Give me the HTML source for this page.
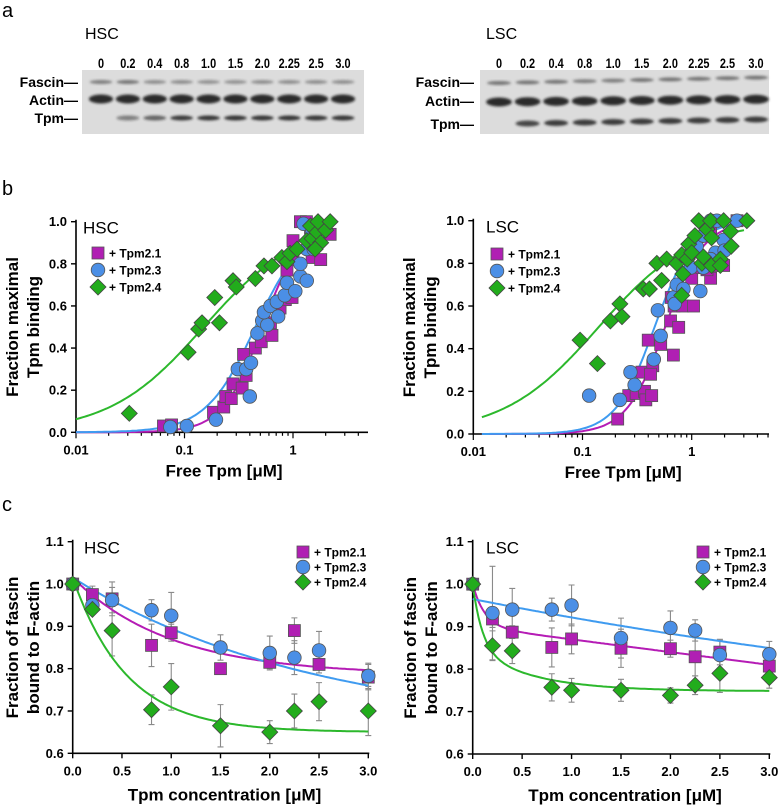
<!DOCTYPE html>
<html><head><meta charset="utf-8">
<style>
html,body{margin:0;padding:0;background:#fff;}
svg{display:block;font-family:"Liberation Sans",Arial,sans-serif;}
</style></head>
<body>
<svg id="fig" width="778" height="807" viewBox="0 0 778 807">
<defs>
<filter id="blur" x="-20%" y="-50%" width="140%" height="200%"><feGaussianBlur stdDeviation="1.3"/></filter>
</defs>
<text x="2" y="17" font-size="20">a</text>
<text x="2" y="195" font-size="20">b</text>
<text x="2" y="511" font-size="20">c</text>
<g id="gels"></g>
<g id="plots"></g>
</svg>
<script>
// ---------- data ----------
const laneLabels = ["0","0.2","0.4","0.8","1.0","1.5","2.0","2.25","2.5","3.0"];
const hscFascin = [0.55,0.6,0.45,0.45,0.42,0.42,0.45,0.45,0.45,0.45];
const hscTpm = [0,0.5,0.65,0.85,0.9,0.9,0.9,0.9,0.9,0.9];
const lscFascin = [0.6,0.6,0.6,0.55,0.55,0.6,0.6,0.6,0.6,0.6];
const lscTpm = [0,0.8,0.85,0.85,0.85,0.85,0.85,0.85,0.85,0.85];

const bTicksX = [0.01,0.1,1];
const bTickLabelsX = ["0.01","0.1","1"];
const bTicksY = [0,0.2,0.4,0.6,0.8,1.0];
const bTickLabelsY = ["0.0","0.2","0.4","0.6","0.8","1.0"];

const hsc21x = [0.064,0.076,0.185,0.23,0.24,0.27,0.28,0.34,0.37,0.35,0.45,0.51,0.64,0.62,0.76,0.85,0.98,0.88,1.0,1.0,1.17,1.33,1.5,1.8,2.2,1.45];
const hsc21y = [0.03,0.035,0.095,0.12,0.17,0.16,0.23,0.21,0.27,0.37,0.40,0.43,0.46,0.52,0.59,0.63,0.64,0.77,0.82,0.91,1.0,1.0,0.83,0.82,0.94,0.97];
const hsc23x = [0.074,0.105,0.195,0.31,0.37,0.41,0.40,0.47,0.52,0.58,0.54,0.62,0.71,0.73,0.84,0.88,1.05,1.17,1.34,1.17,1.34,1.25,1.5,1.55];
const hsc23y = [0.025,0.03,0.06,0.30,0.30,0.33,0.17,0.47,0.53,0.51,0.57,0.60,0.62,0.55,0.65,0.71,0.67,0.74,0.72,0.80,0.87,0.99,0.95,0.87];
const hsc24x = [0.031,0.108,0.135,0.145,0.19,0.21,0.28,0.30,0.45,0.54,0.64,0.79,0.88,0.94,1.09,1.34,1.5,1.45,1.67,1.7,2.0,2.2,1.8,1.6];
const hsc24y = [0.09,0.38,0.49,0.52,0.64,0.52,0.72,0.69,0.73,0.79,0.79,0.83,0.81,0.85,0.87,0.91,0.92,0.98,0.95,1.0,0.96,1.0,0.90,0.87];

const lsc21x = [0.21,0.265,0.31,0.35,0.37,0.38,0.43,0.40,0.44,0.42,0.52,0.64,0.68,0.76,0.65,0.69,0.83,1.04,1.0,1.24,1.49,1.38,1.65,1.96,1.49,2.6];
const lsc21y = [0.07,0.18,0.19,0.29,0.20,0.16,0.18,0.44,0.32,0.28,0.42,0.53,0.37,0.50,0.64,0.60,0.60,0.60,0.73,0.78,0.73,0.77,0.79,0.79,0.96,1.0];
const lsc23x = [0.115,0.22,0.275,0.30,0.45,0.52,0.49,0.68,0.73,0.70,0.84,0.98,1.2,1.11,1.28,1.49,1.65,1.96,2.0,2.6,1.7,1.49,1.28];
const lsc23y = [0.18,0.16,0.29,0.23,0.35,0.46,0.58,0.64,0.70,0.61,0.68,0.78,0.67,0.88,0.93,1.0,0.85,0.91,0.86,1.0,1.0,0.82,0.78];
const lsc24x = [0.095,0.137,0.18,0.22,0.23,0.36,0.41,0.48,0.59,0.53,0.73,0.81,0.83,0.81,0.91,0.94,1.0,1.07,1.16,1.24,1.28,1.38,1.49,1.52,1.52,1.83,1.96,1.83,2.27,2.3,3.2];
const lsc24y = [0.44,0.33,0.53,0.61,0.55,0.68,0.68,0.80,0.82,0.72,0.80,0.65,0.75,0.84,0.82,0.89,0.85,0.93,1.0,0.80,0.83,0.96,1.0,0.79,0.92,0.82,1.0,0.79,0.95,0.88,1.0];

// Hill fit parameters [K, n, max]
const hscFit21 = [0.52,2.4,1.0];
const hscFit23 = [0.45,1.9,1.0];
const hscFit24 = [0.15,1.0,1.0];
const lscFit21 = [0.57,2.47,1.0];
const lscFit23 = [0.456,2.42,1.0];
const lscFit24 = [0.14,1.0,1.0];

const cConc = [0,0.2,0.4,0.8,1.0,1.5,2.0,2.25,2.5,3.0];
const cTicksX = [0,0.5,1.0,1.5,2.0,2.5,3.0];
const cTickLabelsX = ["0.0","0.5","1.0","1.5","2.0","2.5","3.0"];
const cTicksY = [0.6,0.7,0.8,0.9,1.0,1.1];
const cTickLabelsY = ["0.6","0.7","0.8","0.9","1.0","1.1"];

const hscC21 = [1.0,0.975,0.965,0.855,0.885,0.80,0.815,0.89,0.81,0.78];
const hscC21e = [0,0.02,0.04,0.05,0.02,0,0.015,0.03,0.02,0.03];
const hscC23 = [1.0,0.95,0.962,0.938,0.925,0.85,0.837,0.826,0.843,0.783];
const hscC23e = [0,0.01,0.03,0.025,0.055,0.03,0.04,0.04,0.045,0.03];
const hscC24 = [1.0,0.94,0.89,0.703,0.757,0.665,0.65,0.70,0.722,0.70];
const hscC24e = [0,0.01,0.06,0.035,0.055,0.05,0.027,0.04,0.045,0.058];

const lscC21 = [1.0,0.918,0.887,0.851,0.871,0.849,0.848,0.829,0.84,0.807];
const lscC21e = [0,0.02,0.015,0.046,0.035,0.045,0.02,0.045,0.03,0.015];
const lscC23 = [1.0,0.932,0.94,0.94,0.95,0.873,0.897,0.891,0.833,0.835];
const lscC23e = [0,0.11,0.05,0.027,0.048,0.047,0.04,0.025,0.035,0.03];
const lscC24 = [1.0,0.855,0.843,0.757,0.75,0.75,0.738,0.762,0.79,0.78];
const lscC24e = [0,0.035,0.03,0.032,0.028,0.026,0.018,0.022,0.045,0.025];

// exponential fit params: y = a + b1*exp(-x/t1) + b2*exp(-x/t2) + s*x
const hscExp21 = [0.785,0.23,1.0,0,1,0];
const hscExp23 = [0.65,0.365,2.5,0,1,0];
const hscExp24 = [0.65,0.365,0.55,0,1,0];
const lscExp21 = [0.9,0.1,0.12,0,1,-0.03];
const lscExp23 = [0.6,0.365,7.9,0,1,0];
const lscExp24 = [0.748,0.15,0.1,0.1,0.6,0];

// ---------- helpers ----------
const NS="http://www.w3.org/2000/svg";
function el(tag,attrs,parent,txt){const e=document.createElementNS(NS,tag);for(const k in attrs)e.setAttribute(k,attrs[k]);if(txt!==undefined)e.textContent=txt;parent.appendChild(e);return e;}
const C21="#b01fb3",C23="#4b8fe6",C24="#22ac1c";
const L21="#b51cb5",L23="#3f9bf0",L24="#2cb82c";

function marker(g,kind,x,y){
  let m;
  if(kind===0){m=el('rect',{x:x-6,y:y-6,width:12,height:12,fill:C21,stroke:"#555","stroke-width":0.8},g);}
  else if(kind===1){m=el('circle',{cx:x,cy:y,r:6.8,fill:C23,stroke:"#555","stroke-width":0.8},g);}
  else {m=el('polygon',{points:`${x},${y-8} ${x+8},${y} ${x},${y+8} ${x-8},${y}`,fill:C24,stroke:"#444","stroke-width":0.8},g);}
  return m;
}

// ---------- gels ----------
function gel(x0,x1,lane0,lane1,fas,tpm,name,label,labelX,tagRight,lsc){
  const g=el('g',{},document.getElementById('gels'));
  
  
  const t=el('text',{x:labelX,y:39,"font-size":16},g,label);
  
  
  const bg=el('rect',{x:x0,y:70,width:x1-x0,height:64,fill:"#dcdcdc"},g);
  
  
  const step=(lane1-lane0)/9;
  for(let i=0;i<laneLabels.length;i++){
    const cx=lane0+i*step;
    const lt=el('text',{x:cx,y:68,"font-size":14,"font-weight":"bold","text-anchor":"middle",transform:`translate(${cx},0) scale(0.78,1) translate(${-cx},0)`},g,laneLabels[i]);
    
    
    const fy = lsc ? 83 - i*0.6 : 82;
    const b1=el('ellipse',{cx:cx,cy:fy,rx:step*0.42,ry:2,fill:"#333","fill-opacity":fas[i],filter:"url(#blur)"},g);
    
    
    const b2=el('ellipse',{cx:cx,cy:lsc?102-i*0.3:99,rx:step*0.45,ry:4.5,fill:"#1a1a1a","fill-opacity":0.9,filter:"url(#blur)"},g);
    
    
    if(tpm[i]>0){
      const b3=el('ellipse',{cx:cx,cy:lsc?124-i*0.5:118,rx:step*0.42,ry:lsc?3:2.5,fill:"#222","fill-opacity":tpm[i],filter:"url(#blur)"},g);
      
      
    }
  }
  const rows=[["Fascin",87],["Actin",lsc?106:105],["Tpm",lsc?129:123]];
  for(const r of rows){
    const rt=el('text',{x:tagRight,y:r[1],"font-size":14,"font-weight":"bold","text-anchor":"end"},g,r[0]+"\u2014");
    
    
  }
}
gel(82,364,101,343,hscFascin,hscTpm,"gel-hsc","HSC",85,78,false);
gel(480,769,499,756,lscFascin,lscTpm,"gel-lsc","LSC",486,474,true);

// ---------- binding plots (log x) ----------
function bindingPlot(o){
  const g=el('g',{},document.getElementById('plots'));
  
  
  const X=v=>o.x0+(Math.log10(v)+2)*o.dec;
  const Y=v=>o.yb-(v)*(o.yb-o.yt);
  const ax=el('path',{d:`M${o.x0},${o.yt-2}V${o.yb}H${o.xe}`,stroke:"#000","stroke-width":1.6,fill:"none"},g);
  
  
  for(let i=0;i<bTicksY.length;i++){
    const y=Y(bTicksY[i]);
    el('line',{x1:o.x0-5,x2:o.x0,y1:y,y2:y,stroke:"#000","stroke-width":1.4},g);
    const t=el('text',{x:o.x0-9,y:y+4.5,"font-size":13,"font-weight":"bold","text-anchor":"end"},g,bTickLabelsY[i]);
    
    
  }
  for(let d=-2;d<=0;d++){
    for(let m=1;m<=9;m++){
      const v=m*Math.pow(10,d);const x=X(v);if(x>o.xe)break;
      el('line',{x1:x,x2:x,y1:o.yb,y2:o.yb+(m===1?6:3.5),stroke:"#000","stroke-width":1.2},g);
    }
  }
  for(let i=0;i<bTicksX.length;i++){
    const t=el('text',{x:X(bTicksX[i]),y:o.yb+22,"font-size":13,"font-weight":"bold","text-anchor":"middle"},g,bTickLabelsX[i]);
    
    
  }
  const xt=el('text',{x:(o.x0+o.xe)/2+2,y:o.yb+44,"font-size":17,"font-weight":"bold","text-anchor":"middle"},g,"Free Tpm [\u03bcM]");
  
  
  const cy=(o.yt+o.yb)/2;
  const yt=el('text',{transform:`translate(${o.tx},${cy}) rotate(-90)`,"font-size":17,"font-weight":"bold","text-anchor":"middle"},g);
  
  
  el('tspan',{x:0,y:0},yt,"Fraction maximal");
  el('tspan',{x:0,y:21},yt,"Tpm binding");
  const lab=el('text',{x:o.lx,y:o.yt+12,"font-size":17},g,o.label);
  
  
  const fits=[[o.f21,L21],[o.f23,L23],[o.f24,L24]];
  for(const [f,col] of fits){
    let d="";
    for(let lv=Math.log10(o.cs);lv<=Math.log10(o.ce);lv+=0.02){
      const v=Math.pow(10,lv);const y=f[2]*Math.pow(v,f[1])/(Math.pow(f[0],f[1])+Math.pow(v,f[1]));
      d+=(d?"L":"M")+X(v).toFixed(1)+","+Y(y).toFixed(1);
    }
    const p=el('path',{d:d,stroke:col,"stroke-width":2,fill:"none"},g);
    
    
  }
  const series=[[o.d21x,o.d21y,0,'tpm21-point'],[o.d23x,o.d23y,1,'tpm23-point'],[o.d24x,o.d24y,2,'tpm24-point']];
  for(const [xs,ys,k,nm] of series){
    for(let i=0;i<xs.length;i++){
      const m=marker(g,k,X(xs[i]),Y(ys[i]));
      
      
    }
  }
  legend(g,o.legx,o.legy,17);
}
function legend(g,x,y,dy){
  const names=["+ Tpm2.1","+ Tpm2.3","+ Tpm2.4"];
  for(let i=0;i<3;i++){
    const m=marker(g,i,x,y+i*dy);
    
    
    const t=el('text',{x:x+11,y:y+i*dy+4.5,"font-size":12,"font-weight":"bold"},g,names[i]);
    
    
  }
}
bindingPlot({name:"binding-plot-hsc",x0:76,xe:368,dec:108.5,yt:221.7,yb:432.3,tx:18,lx:83,label:"HSC",
  f21:hscFit21,f23:hscFit23,f24:hscFit24,cs:0.01,ce:2.2,
  d21x:hsc21x,d21y:hsc21y,d23x:hsc23x,d23y:hsc23y,d24x:hsc24x,d24y:hsc24y,legx:98,legy:253});
bindingPlot({name:"binding-plot-lsc",x0:473.3,xe:769,dec:109.2,yt:220.7,yb:434,tx:415,lx:486,label:"LSC",
  f21:lscFit21,f23:lscFit23,f24:lscFit24,cs:0.012,ce:3.1,
  d21x:lsc21x,d21y:lsc21y,d23x:lsc23x,d23y:lsc23y,d24x:lsc24x,d24y:lsc24y,legx:497,legy:254});

// ---------- fascin plots ----------
function fascinPlot(o){
  const g=el('g',{},document.getElementById('plots'));
  
  
  const X=v=>o.x0+v/3*(o.x3-o.x0);
  const Y=v=>o.yb-(v-0.6)/0.5*(o.yb-o.yt);
  const ax=el('path',{d:`M${o.x0},${o.yt-2}V${o.yb}H${o.x3+1}`,stroke:"#000","stroke-width":1.6,fill:"none"},g);
  
  
  for(let i=0;i<cTicksY.length;i++){
    const y=Y(cTicksY[i]);
    el('line',{x1:o.x0-5,x2:o.x0,y1:y,y2:y,stroke:"#000","stroke-width":1.4},g);
    const t=el('text',{x:o.x0-9,y:y+4.5,"font-size":13,"font-weight":"bold","text-anchor":"end"},g,cTickLabelsY[i]);
    
    
  }
  for(let i=0;i<cTicksX.length;i++){
    const x=X(cTicksX[i]);
    el('line',{x1:x,x2:x,y1:o.yb,y2:o.yb+5,stroke:"#000","stroke-width":1.4},g);
    const t=el('text',{x:x,y:o.yb+22,"font-size":13,"font-weight":"bold","text-anchor":"middle"},g,cTickLabelsX[i]);
    
    
  }
  const xt=el('text',{x:(o.x0+o.x3)/2+4,y:o.yb+47,"font-size":17,"font-weight":"bold","text-anchor":"middle"},g,"Tpm concentration [\u03bcM]");
  
  
  const cy=(o.yt+o.yb)/2;
  const yt=el('text',{transform:`translate(${o.tx},${cy}) rotate(-90)`,"font-size":17,"font-weight":"bold","text-anchor":"middle"},g);
  
  
  el('tspan',{x:0,y:0},yt,"Fraction of  fascin");
  el('tspan',{x:0,y:21},yt,"bound to F-actin");
  const lab=el('text',{x:o.lx,y:o.yt+12,"font-size":17},g,o.label);
  
  
  const ser=[[o.s21,o.e21,0,'tpm21-point'],[o.s23,o.e23,1,'tpm23-point'],[o.s24,o.e24,2,'tpm24-point']];
  for(const [ys,es] of ser){
    for(let i=0;i<cConc.length;i++){
      if(!es[i])continue;
      const x=X(cConc[i]),y1=Y(ys[i]-es[i]),y2=Y(ys[i]+es[i]);
      const eb=el('path',{d:`M${x},${y1}V${y2}M${x-3},${y1}H${x+3}M${x-3},${y2}H${x+3}`,stroke:"#8a8a8a","stroke-width":1.1,fill:"none"},g);
      
      
    }
  }
  const fits=[[o.f21,L21],[o.f23,L23],[o.f24,L24]];
  for(const [f,col] of fits){
    let d="";
    for(let v=0;v<=3.0001;v+=0.02){
      const y=f[0]+f[1]*Math.exp(-v/f[2])+f[3]*Math.exp(-v/f[4])+f[5]*v;
      d+=(d?"L":"M")+X(v).toFixed(1)+","+Y(y).toFixed(1);
    }
    const p=el('path',{d:d,stroke:col,"stroke-width":2,fill:"none"},g);
    
    
  }
  for(const [ys,es,k,nm] of ser){
    for(let i=0;i<cConc.length;i++){
      const m=marker(g,k,X(cConc[i]),Y(ys[i]));
      
      
    }
  }
  legend(g,o.legx,o.legy,15);
}
fascinPlot({name:"fascin-plot-hsc",x0:72.7,x3:368.3,yt:541.7,yb:753.3,tx:18,lx:84,label:"HSC",
  s21:hscC21,e21:hscC21e,s23:hscC23,e23:hscC23e,s24:hscC24,e24:hscC24e,
  f21:hscExp21,f23:hscExp23,f24:hscExp24,legx:303,legy:552});
fascinPlot({name:"fascin-plot-lsc",x0:472.7,x3:769.3,yt:541.7,yb:754,tx:416,lx:486,label:"LSC",
  s21:lscC21,e21:lscC21e,s23:lscC23,e23:lscC23e,s24:lscC24,e24:lscC24e,
  f21:lscExp21,f23:lscExp23,f24:lscExp24,legx:703,legy:552});
</script>
</body></html>
